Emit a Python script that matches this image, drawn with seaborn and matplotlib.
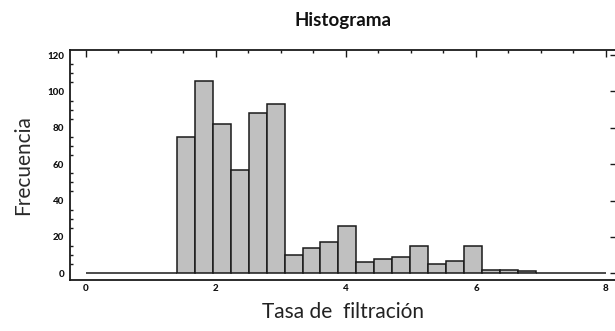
import numpy as np
import matplotlib
matplotlib.use("Agg")
import matplotlib.pyplot as plt
from matplotlib.ticker import MultipleLocator
import seaborn as sns

# Data
bin_start = 1.395
bin_width = 0.2766
counts = [75, 106, 82, 57, 88, 93, 10, 14, 17, 26, 6, 8, 9, 15, 5, 7, 15, 2, 2, 1]
range_min, range_max = 0.0, 8.0

title = "Histograma"
xlabel = "Tasa de  filtración"
ylabel = "Frecuencia"
xticks = [0, 2, 4, 6, 8]
yticks = [0, 20, 40, 60, 80, 100, 120]

inner_edges = [bin_start + i * bin_width for i in range(len(counts) + 1)]
edges = [range_min] + inner_edges + [range_max]
all_counts = [0] + counts + [0]
centers = [(edges[i] + edges[i + 1]) / 2 for i in range(len(all_counts))]

sns.set_theme(style="white")
plt.rcParams['font.family'] = ['Lato', 'DejaVu Sans']

fig = plt.figure(figsize=(6.15, 3.31), dpi=100)
ax = fig.add_axes([70 / 615, 1 - 280 / 331, (617 - 70) / 615, 230 / 331])

sns.histplot(x=centers, weights=all_counts, bins=edges, ax=ax,
             color="#c0c0c0", edgecolor="#1a1a1a", linewidth=1.1, alpha=1.0)

ax.set_xlim(-0.246, 8.17)
ax.set_ylim(-3.7, 122.8)
ax.set_xticks(xticks)
ax.set_yticks(yticks)
ax.xaxis.set_minor_locator(MultipleLocator(0.5))
ax.yaxis.set_minor_locator(MultipleLocator(5))

ax.tick_params(axis="both", which="major", direction="in", length=5, width=1.0,
               color="#1a1a1a", labelsize=7, labelcolor="#111111")
ax.tick_params(axis="both", which="minor", direction="in", length=1.8, width=1.0,
               color="#1a1a1a")
ax.tick_params(axis="x", which="both", top=True, pad=3)
ax.tick_params(axis="y", which="major", right=True, pad=4)
ax.tick_params(axis="y", which="minor", left=True, right=False)
for lab in ax.get_xticklabels() + ax.get_yticklabels():
    lab.set_fontweight("black")

for sp in ax.spines.values():
    sp.set_color("#1a1a1a")
    sp.set_linewidth(1.3)

ax.set_xlabel(xlabel, fontsize=15, color="#222222", labelpad=6)
ax.set_ylabel(ylabel, fontsize=15, color="#2a2a2a", labelpad=10)
ax.set_title(title, fontsize=13.5, fontweight="bold", color="#111111", pad=17)
ax.grid(False)

fig.savefig("out.png", dpi=100)
